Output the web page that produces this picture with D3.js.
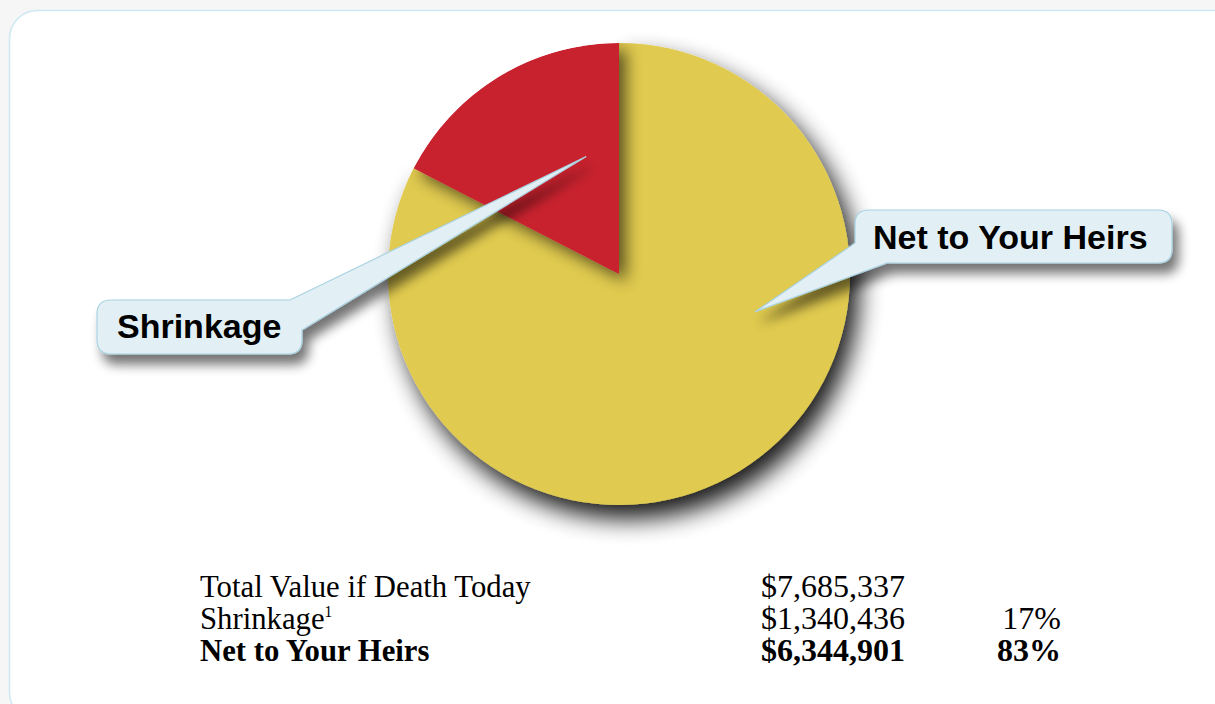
<!DOCTYPE html>
<html>
<head>
<meta charset="utf-8">
<script src="https://cdn.jsdelivr.net/npm/d3@7/dist/d3.min.js"></script>
<style>
  html, body { margin: 0; padding: 0; background: #f6f6f6; }
  svg { display: block; }
</style>
</head>
<body>
<div id="chart"></div>
<script>
// ---- data ----
const categories = ["Shrinkage", "Net to Your Heirs"];
const values = [1340436, 6344901];
const total = 7685337;
const colors = ["#c8202e", "#e0ca50"];
const tableLabels = ["Total Value if Death Today", "Shrinkage", "Net to Your Heirs"];
const tableValues = ["$7,685,337", "$1,340,436", "$6,344,901"];
const tablePercents = ["", "17%", "83%"];

// ---- layout ----
const W = 1215, H = 704;
const cx = 619, cy = 274, R = 231;

const svg = d3.select("#chart").append("svg").attr("width", W).attr("height", H);
const defs = svg.append("defs");

function shadow(id, dx, dy, sd, op) {
  const f = defs.append("filter").attr("id", id)
    .attr("x", "-30%").attr("y", "-30%").attr("width", "160%").attr("height", "170%");
  f.append("feGaussianBlur").attr("in", "SourceAlpha").attr("stdDeviation", sd).attr("result", "b");
  f.append("feOffset").attr("in", "b").attr("dx", dx).attr("dy", dy).attr("result", "o");
  f.append("feComponentTransfer").attr("in", "o").attr("result", "s")
    .append("feFuncA").attr("type", "linear").attr("slope", op);
  const m = f.append("feMerge");
  m.append("feMergeNode").attr("in", "s");
  m.append("feMergeNode").attr("in", "SourceGraphic");
}
shadow("pieShadow", 9, 14, 12, 0.9);
shadow("sliceShadow", 7, 7, 8, 0.6);
shadow("calloutShadow", 6, 10, 6, 0.55);

// card
svg.append("rect").attr("x", 9.5).attr("y", 10.5).attr("width", 1240).attr("height", 710)
  .attr("rx", 28).attr("fill", "#ffffff").attr("stroke", "#cde8f2").attr("stroke-width", 1.5);

// ---- pie ----
const frac = values[0] / d3.sum(values);
const pie = d3.pie().sort(null).value(d => d)
  .startAngle(-2 * Math.PI * frac).endAngle(2 * Math.PI - 2 * Math.PI * frac);
const arcs = pie(values);
const arc = d3.arc().innerRadius(0).outerRadius(R);

const g = svg.append("g").attr("transform", `translate(${cx},${cy})`);
g.append("path").datum(arcs[1]).attr("d", arc).attr("fill", colors[1])
  .attr("filter", "url(#pieShadow)");
defs.append("clipPath").attr("id", "pieClip").append("circle").attr("r", R);
g.append("g").attr("clip-path", "url(#pieClip)")
  .append("path").datum(arcs[0]).attr("d", arc).attr("fill", colors[0])
  .attr("filter", "url(#sliceShadow)");

// ---- callouts ----
function polar(angleDeg, dist) {
  const a = angleDeg * Math.PI / 180;
  return [cx + dist * Math.sin(a), cy - dist * Math.cos(a)];
}
function calloutPath(x0, y0, x1, y1, r, corner, pa, tip, pb) {
  const p = d3.path();
  if (corner === "tr") {
    p.moveTo(x0 + r, y0);
    p.lineTo(pa[0], pa[1]);
    p.lineTo(tip[0], tip[1]);
    p.lineTo(pb[0], pb[1]);
    p.lineTo(x1, y1 - r);
    p.quadraticCurveTo(x1, y1, x1 - r, y1);
    p.lineTo(x0 + r, y1);
    p.quadraticCurveTo(x0, y1, x0, y1 - r);
    p.lineTo(x0, y0 + r);
    p.quadraticCurveTo(x0, y0, x0 + r, y0);
  } else {
    p.moveTo(x0 + r, y0);
    p.lineTo(x1 - r, y0);
    p.quadraticCurveTo(x1, y0, x1, y0 + r);
    p.lineTo(x1, y1 - r);
    p.quadraticCurveTo(x1, y1, x1 - r, y1);
    p.lineTo(pb[0], pb[1]);
    p.lineTo(tip[0], tip[1]);
    p.lineTo(pa[0], pa[1]);
    p.lineTo(x0, y0 + r);
    p.quadraticCurveTo(x0, y0, x0 + r, y0);
  }
  p.closePath();
  return p.toString();
}

const callouts = [
  { label: categories[0], box: [97, 300, 302, 354], corner: "tr",
    pa: [290, 300], pb: [302, 330], tip: polar(-15.6, 122), tx: 117, ty: 338 },
  { label: categories[1], box: [855, 210, 1172, 263], corner: "bl",
    pa: [855, 243], pb: [887, 263], tip: polar(105.6, 141), tx: 873, ty: 249 }
];
callouts.forEach(c => {
  svg.append("path")
    .attr("d", calloutPath(c.box[0], c.box[1], c.box[2], c.box[3], 14, c.corner, c.pa, c.tip, c.pb))
    .attr("fill", "#e2eff5").attr("stroke", "#a9d2e2").attr("stroke-width", 1.2)
    .attr("filter", "url(#calloutShadow)");
  svg.append("text").attr("x", c.tx).attr("y", c.ty)
    .attr("font-family", "Liberation Sans, Arial, sans-serif")
    .attr("font-weight", "bold").attr("font-size", 34).attr("fill", "#000")
    .text(c.label);
});

// ---- table ----
const rowY = [597, 629, 661];
const tbl = svg.append("g").attr("font-family", "Liberation Serif, Times New Roman, serif")
  .attr("font-size", 32).attr("fill", "#000");
const labG = tbl.append("g").attr("transform", "translate(200,0) scale(0.96,1)");
tableLabels.forEach((lab, i) => {
  const bold = i === 2 ? "bold" : "normal";
  const t = labG.append("text").attr("x", 0).attr("y", rowY[i]).attr("font-weight", bold).text(lab);
  if (i === 1) t.append("tspan").attr("font-size", 16).attr("dy", -12).text("1");
  tbl.append("text").attr("x", 905).attr("y", rowY[i]).attr("text-anchor", "end")
    .attr("font-weight", bold).text(tableValues[i]);
  if (tablePercents[i]) tbl.append("text").attr("x", 1061).attr("y", rowY[i]).attr("text-anchor", "end")
    .attr("font-weight", bold).text(tablePercents[i]);
});
</script>
</body>
</html>
